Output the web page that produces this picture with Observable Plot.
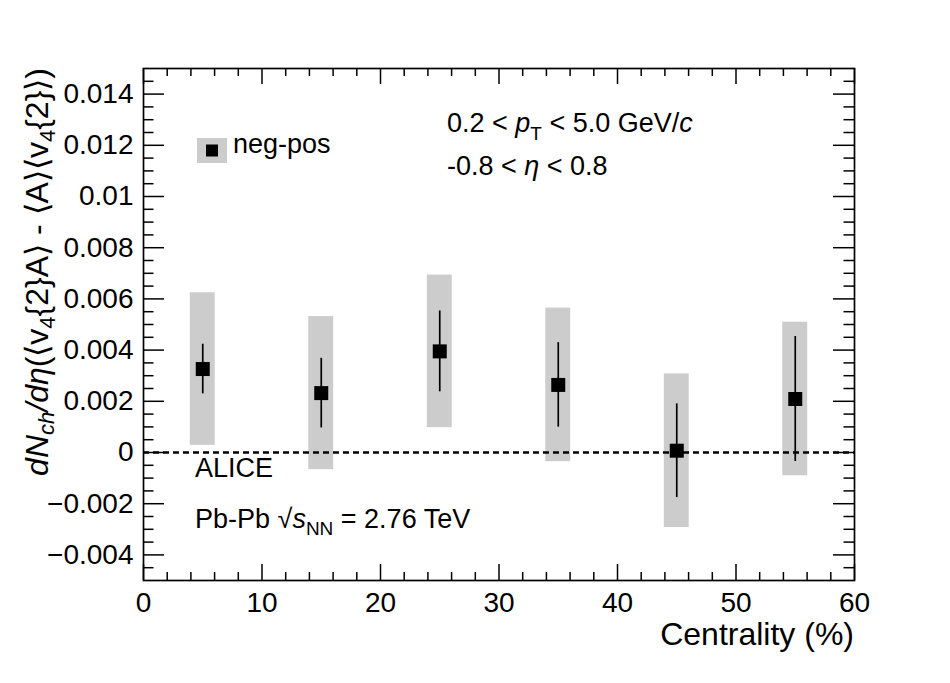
<!DOCTYPE html>
<html>
<head>
<meta charset="utf-8">
<script src="https://cdn.jsdelivr.net/npm/d3@7"></script>
<script src="https://cdn.jsdelivr.net/npm/@observablehq/plot@0.6"></script>
<style>
  body { margin: 0; background: #fff; }
  svg { display: block; }
</style>
</head>
<body>
<div id="chart"></div>
<script>
// ---- data ----
const centrality = [5, 15, 25, 35, 45, 55];
const values  = [0.00326, 0.00232, 0.00395, 0.00264, 0.00007, 0.00209];
const statErr = [0.00097, 0.00136, 0.00158, 0.00165, 0.00183, 0.00244];
const sysErr  = [0.00298, 0.00299, 0.00298, 0.00300, 0.00300, 0.00300];
const xTicks = [0, 10, 20, 30, 40, 50, 60];
const xTickLabels = ["0", "10", "20", "30", "40", "50", "60"];
const yTicks = [-0.004, -0.002, 0, 0.002, 0.004, 0.006, 0.008, 0.01, 0.012, 0.014];
const yTickLabels = ["−0.004", "−0.002", "0", "0.002", "0.004", "0.006", "0.008", "0.01", "0.012", "0.014"];
const seriesName = "neg-pos";

const data = centrality.map((c, i) => ({x: c, y: values[i], stat: statErr[i], sys: sysErr[i]}));

// ---- layout ----
const W = 950, H = 683, mL = 143, mR = 96, mT = 68, mB = 103;
const iw = W - mL - mR, ih = H - mT - mB;
const font = "'Liberation Sans', Arial, Helvetica, sans-serif";
const boxHalf = 1.05;

const yMinor = d3.range(-9, 30).filter(i => i % 4 !== 0).map(i => i * 0.0005);
const xMinor = d3.range(0, 61, 2).filter(v => v % 10 !== 0);

const chart = Plot.plot({
  width: W, height: H,
  marginLeft: mL, marginRight: mR, marginTop: mT, marginBottom: mB,
  style: {fontFamily: font, background: "white", color: "black"},
  x: {domain: [0, 60], label: null},
  y: {domain: [-0.005, 0.015], label: null},
  marks: [
    Plot.rect(data, {x1: d => d.x - boxHalf, x2: d => d.x + boxHalf, y1: d => d.y - d.sys, y2: d => d.y + d.sys, fill: "#cccccc"}),
    Plot.ruleY([0], {stroke: "black", strokeWidth: 2.5, strokeDasharray: "6,4"}),
    Plot.ruleX(data, {x: "x", y1: d => d.y - d.stat, y2: d => d.y + d.stat, stroke: "black", strokeWidth: 1.7}),
    Plot.dot(data, {x: "x", y: "y", symbol: "square", r: 7.9, fill: "black", stroke: null}),
    // ticks (inside, all four sides)
    Plot.tickY(yTicks, {y: d => d, insetRight: iw - 21, stroke: "black", strokeWidth: 1.5}),
    Plot.tickY(yMinor, {y: d => d, insetRight: iw - 10.5, stroke: "black", strokeWidth: 1.5}),
    Plot.tickY(yTicks, {y: d => d, insetLeft: iw - 21, stroke: "black", strokeWidth: 1.5}),
    Plot.tickY(yMinor, {y: d => d, insetLeft: iw - 10.5, stroke: "black", strokeWidth: 1.5}),
    Plot.tickX(xTicks, {x: d => d, insetTop: ih - 16, stroke: "black", strokeWidth: 1.5}),
    Plot.tickX(xMinor, {x: d => d, insetTop: ih - 8, stroke: "black", strokeWidth: 1.5}),
    Plot.tickX(xTicks, {x: d => d, insetBottom: ih - 16, stroke: "black", strokeWidth: 1.5}),
    Plot.tickX(xMinor, {x: d => d, insetBottom: ih - 8, stroke: "black", strokeWidth: 1.5}),
    Plot.frame({stroke: "black", strokeWidth: 1.7}),
    Plot.axisX(xTicks, {tickFormat: d => xTickLabels[xTicks.indexOf(d)], tickSize: 0, tickPadding: 12, fontSize: 28, label: null}),
    Plot.axisY(yTicks, {tickFormat: d => yTickLabels[yTicks.indexOf(d)], tickSize: 0, tickPadding: 10, fontSize: 28, label: null})
  ]
});

document.getElementById("chart").appendChild(chart);

// ---- annotations ----
const svg = d3.select(chart);
const g = svg.append("g").attr("font-family", font).attr("fill", "black").attr("text-anchor", "start");

function rich(x, y, size, parts, opts = {}) {
  const t = g.append("text").attr("x", x).attr("y", y).attr("font-size", size)
    .attr("text-anchor", opts.anchor || "start");
  if (opts.transform) t.attr("transform", opts.transform).attr("x", 0).attr("y", 0);
  parts.forEach(p => {
    const s = t.append("tspan").text(p.t);
    if (p.i) s.attr("font-style", "italic");
    if (p.s) s.attr("font-size", p.s);
    if (p.dy) s.attr("dy", p.dy);
  });
  return t;
}

// Y axis title
rich(0, 0, 32, [
  {t: "dN", i: 1},
  {t: "ch", i: 1, s: 22, dy: 6},
  {t: "/d", i: 1, dy: -6},
  {t: "η", i: 1},
  {t: "(⟨v"},
  {t: "4", s: 22, dy: 7},
  {t: "{2}A⟩ - ⟨A⟩⟨v", dy: -7},
  {t: "4", s: 22, dy: 7},
  {t: "{2}⟩)", dy: -7}
], {anchor: "end", transform: `translate(48,${mT}) rotate(-90)`});

// X axis title
rich(W - mR, 645, 32, [{t: "Centrality (%)"}], {anchor: "end"});

// kinematic ranges
rich(447, 132, 27, [
  {t: "0.2 < "},
  {t: "p", i: 1},
  {t: "T", s: 19, dy: 8},
  {t: " < 5.0 GeV/", dy: -8},
  {t: "c", i: 1}
]);
rich(447, 175, 27, [
  {t: "-0.8 < "},
  {t: "η", i: 1},
  {t: " < 0.8"}
]);

// legend
g.append("rect").attr("x", 197).attr("y", 138).attr("width", 30).attr("height", 25).attr("fill", "#cccccc");
g.append("rect").attr("x", 206).attr("y", 144.5).attr("width", 12).attr("height", 12).attr("fill", "black");
rich(233, 153, 27, [{t: seriesName}]);

// experiment labels
rich(195, 477, 27, [{t: "ALICE"}]);
rich(195, 528, 27, [
  {t: "Pb-Pb √"},
  {t: "s", i: 1},
  {t: "NN", s: 19, dy: 7},
  {t: " = 2.76 TeV", dy: -7}
]);
</script>
</body>
</html>
